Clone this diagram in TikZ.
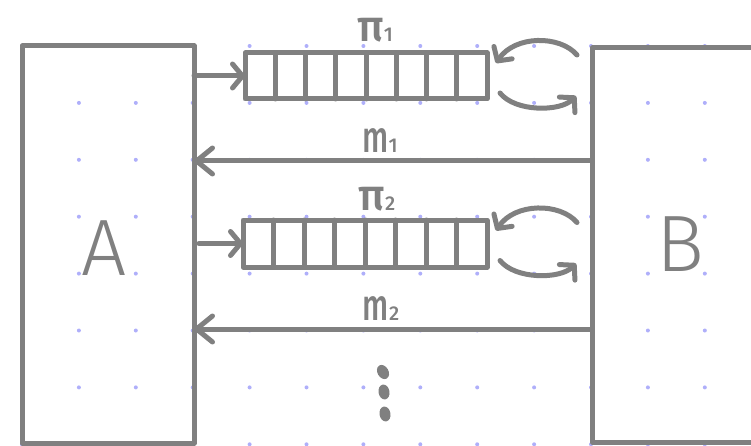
\documentclass[tikz,border=0pt]{standalone}
\usepackage{fontspec}
\setmainfont{Fira Sans}[UprightFont=* Light]
\newfontfamily\markfont{Fira Sans}[UprightFont=* Medium]
\usetikzlibrary{arrows.meta,calc}
\definecolor{ink}{RGB}{128,128,128}
\definecolor{griddot}{RGB}{175,175,250}

\begin{document}
\begin{tikzpicture}[x=1pt,y=-1pt,
  inkline/.style={draw=ink, line width=5pt, line cap=round, line join=round},
  box/.style={inkline, rectangle, inner sep=0pt, outer sep=0pt},
  queue/.style={box, minimum width=242pt, minimum height=46pt},
  feed/.style={inkline, -{Straight Barb[length=10pt,width=24pt,round]}},
  reply/.style={inkline, -{Straight Barb[length=16pt,width=26pt,round]}},
  spin/.style={inkline, -{Straight Barb[length=10pt,width=22pt,round]}},
  big/.style={text=ink, inner sep=0pt, font=\fontsize{80}{80}\selectfont},
  lbl/.style={text=ink, inner sep=0pt, font=\markfont\fontsize{44}{44}\selectfont},
]
\path[use as bounding box, clip] (0,0) rectangle (751,446);

% dotted background grid
\foreach \i in {0,...,12}
  \foreach \j in {0,...,7}
    \fill[griddot] (22+56.9*\i, 46+56.9*\j) circle (2);

% the two parties
\node[box, minimum width=172pt, minimum height=397pt] (A) at (108,244.5) {};
\node[box, minimum width=198pt, minimum height=394pt] (B) at (691,245) {};
\node[big] (Alabel) at (104,248) {A};
\node[big] (Blabel) at (680,244) {B};

% queues with eight slots each
\node[queue] (Q1) at (366,76) {};
\node[queue, minimum width=244pt, minimum height=47pt] (Q2) at (365,243.5) {};
\foreach \q in {Q1,Q2} {
  \foreach \k in {1,...,7}
    \draw[inkline] ($(\q.north west)!\k/8!(\q.north east)$) -- ($(\q.south west)!\k/8!(\q.south east)$);
  % processing loop beside each queue
  \draw[spin] ($(\q.east)+(90,-21)$) .. controls ($(\q.east)+(73,-41)$) and ($(\q.east)+(28,-41)$) .. ($(\q.east)+(9,-13)$);
  \draw[spin] ($(\q.east)+(13,17)$) .. controls ($(\q.east)+(28,36)$) and ($(\q.east)+(73,36)$) .. ($(\q.east)+(89,20)$);
}

% A feeds the queues
\draw[feed] (A.east |- Q1.west) -- (Q1.west);
\draw[feed] ([xshift=5pt]A.east |- Q2.west) -- (Q2.west);

% replies from B
\coordinate (r1) at (0,161);
\coordinate (r2) at (0,329);
\draw[reply] (B.west |- r1) -- (A.east |- r1);
\draw[reply] (B.west |- r2) -- (A.east |- r2);

% labels
\node[lbl, anchor=base] (p1) at (375,42) {π{\fontsize{20}{20}\selectfont 1}};
\node[lbl, anchor=base] (n1) at (380,153) {\scalebox{0.7}[1]{m}{\fontsize{20}{20}\selectfont 1}};
\node[lbl, anchor=base] (p2) at (377,211) {π{\fontsize{20}{20}\selectfont 2}};
\node[lbl, anchor=base] (n2) at (381,320) {\scalebox{0.7}[1]{m}{\fontsize{20}{20}\selectfont 2}};

% vertical ellipsis
\fill[ink] (383,372) circle [x radius=5.5, y radius=7.5, rotate=30];
\fill[ink] (384,392) circle [x radius=5.5, y radius=7.5, rotate=10];
\fill[ink] (385,414) circle [x radius=5.5, y radius=7.5, rotate=10];
\end{tikzpicture}
\end{document}
